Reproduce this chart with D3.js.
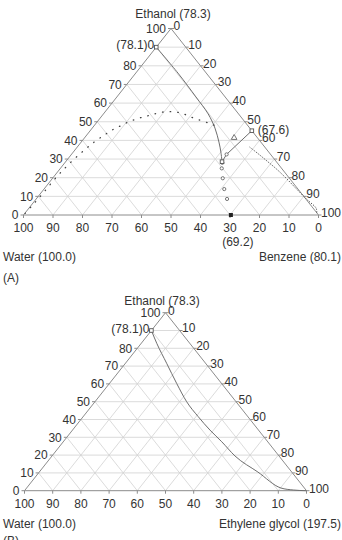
<!DOCTYPE html>
<html lang="en">
<head>
<meta charset="UTF-8"/>
<title>Ternary diagrams</title>
<script src="https://d3js.org/d3.v7.min.js"></script>
<style>
	body { margin: 0; background: #fff; }
	svg text { font-family: "Liberation Sans", Arial, sans-serif; font-size: 12px; fill: #333; }
</style>
</head>
<body>
<script>
// every composition is [ethanol %, third component %]; water is the rest
var ticks = [0, 10, 20, 30, 40, 50, 60, 70, 80, 90, 100];
var gridLevels = [10, 20, 30, 40, 50, 60, 70, 80, 90];

// (A) water - ethanol - benzene
var binodalLeftA = [[0.9, 0.1], [6.3, 0.5], [12.5, 0.8], [20.2, 1.0], [24.5, 1.4], [29.5, 2.1],
	[34.3, 3.1], [38.8, 4.3], [42.5, 5.8], [45.6, 7.3], [47.9, 9.1], [50.0, 10.7], [51.5, 12.6],
	[52.7, 14.5], [53.6, 16.4], [55.0, 18.8], [55.4, 22.0], [54.7, 26.0], [52.5, 30.5],
	[50.7, 34.8], [48.8, 39.2], [47.3, 42.3]];
var binodalRightA = [[36.3, 58.6], [33.1, 62.8], [28.6, 68.5], [24.1, 74.1], [18.8, 80.2],
	[13.4, 86.2], [8.0, 92.3], [3.6, 97.4], [0.8, 99.0]];
var boundaryA = [[90, 0], [76.1, 14.3], [63.3, 26.8], [54.2, 35.5], [46.6, 41.6], [39.1, 46.7],
	[33.8, 50.0], [28.6, 53.0]];
var boundaryA2 = [[28.6, 53.0], [32.5, 52.6], [45.2, 54.8]];
var tieCirclesA = [[32.5, 52.6], [28.0, 53.4], [25.0, 54.7], [19.7, 57.7], [13.9, 61.1], [8.6, 64.7]];
var triangleA = [[41.4, 50.7]];
var openSquaresA = [[90, 0], [45.2, 54.8], [28.6, 53.0]];
var filledSquaresA = [[0, 70.3]];

// (B) water - ethanol - ethylene glycol
var boundaryB = [[90, 0], [82.8, 5.5], [71.6, 14.6], [60.3, 23.8], [50, 32.5], [41.6, 40.8],
	[34.1, 48.7], [27.5, 56.2], [19.5, 64.9], [10.5, 77.5], [1.5, 90.2], [0.4, 95.1], [0, 100]];
var openSquaresB = [[90, 0]];

var svg = d3.select("body").append("svg")
	.attr("width", 342)
	.attr("height", 540);

function drawTernary(cfg) {
	var g = svg.append("g");
	var xScale = d3.scaleLinear().domain([0, 100]).range([cfg.left, cfg.right]);
	var yScale = d3.scaleLinear().domain([0, 100]).range([cfg.bottom, cfg.top]);
	function pt(e, b) { return [xScale(b + e / 2), yScale(e)]; }
	var line = d3.line().x(d => pt(d[0], d[1])[0]).y(d => pt(d[0], d[1])[1]);

	// grid
	var segs = [];
	gridLevels.forEach(function (k) {
		segs.push([pt(k, 0), pt(k, 100 - k)]);
		segs.push([pt(0, k), pt(100 - k, k)]);
		segs.push([pt(0, 100 - k), pt(100 - k, 0)]);
	});
	g.selectAll(".grid").data(segs).enter().append("line")
		.attr("x1", d => d[0][0]).attr("y1", d => d[0][1])
		.attr("x2", d => d[1][0]).attr("y2", d => d[1][1])
		.attr("stroke", "#d2d2d2").attr("stroke-width", 0.8);

	// frame
	g.append("path")
		.attr("d", line([[0, 0], [100, 0], [0, 100], [0, 0]]))
		.attr("fill", "none").attr("stroke", "#8c8c8c").attr("stroke-width", 1);

	// ticks and labels
	ticks.forEach(function (k) {
		var p = pt(k, 0);
		g.append("line").attr("x1", p[0]).attr("y1", p[1]).attr("x2", p[0] - 3).attr("y2", p[1])
			.attr("stroke", "#8c8c8c");
		if (k !== 90)
			g.append("text").attr("x", p[0] - 5).attr("y", p[1] + 4.3)
				.attr("text-anchor", "end").text(k);
		var q = pt(100 - k, k);
		g.append("line").attr("x1", q[0]).attr("y1", q[1]).attr("x2", q[0] + 3).attr("y2", q[1])
			.attr("stroke", "#8c8c8c");
		g.append("text").attr("x", q[0] + 2.5).attr("y", q[1] + 1.8)
			.attr("text-anchor", "start").text(k);
		var r = pt(0, 100 - k);
		g.append("line").attr("x1", r[0]).attr("y1", r[1]).attr("x2", r[0]).attr("y2", r[1] + 3)
			.attr("stroke", "#8c8c8c");
		g.append("text").attr("x", r[0]).attr("y", r[1] + 17.3)
			.attr("text-anchor", "middle").text(k);
	});
	var az = pt(90, 0);
	g.append("text").attr("x", az[0] - 2).attr("y", az[1] + 2.3)
		.attr("text-anchor", "end").text("(78.1)0");

	// curves
	(cfg.solid || []).forEach(function (s) {
		g.append("path").attr("d", line.curve(s.curve)(s.data))
			.attr("fill", "none").attr("stroke", "#6e6e6e").attr("stroke-width", 1);
	});
	(cfg.dotted || []).forEach(function (s) {
		g.append("path").attr("d", line.curve(d3.curveCatmullRom)(s.data))
			.attr("fill", "none").attr("stroke", "#444").attr("stroke-width", s.w)
			.attr("stroke-linecap", "round").attr("stroke-dasharray", s.dash);
	});

	// markers
	g.selectAll(".circ").data(cfg.circles || []).enter().append("circle")
		.attr("cx", d => pt(d[0], d[1])[0]).attr("cy", d => pt(d[0], d[1])[1])
		.attr("r", 1.6).attr("fill", "#fff").attr("stroke", "#666").attr("stroke-width", 0.9);
	g.selectAll(".tri").data(cfg.triangles || []).enter().append("path")
		.attr("d", d3.symbol(d3.symbolTriangle, 14))
		.attr("transform", d => "translate(" + pt(d[0], d[1]) + ")")
		.attr("fill", "#fff").attr("stroke", "#666").attr("stroke-width", 0.9);
	g.selectAll(".osq").data(cfg.openSquares || []).enter().append("rect")
		.attr("x", d => pt(d[0], d[1])[0] - 1.8).attr("y", d => pt(d[0], d[1])[1] - 1.8)
		.attr("width", 3.6).attr("height", 3.6)
		.attr("fill", "#fff").attr("stroke", "#555").attr("stroke-width", 0.9);
	g.selectAll(".fsq").data(cfg.filledSquares || []).enter().append("rect")
		.attr("x", d => pt(d[0], d[1])[0] - 2).attr("y", d => pt(d[0], d[1])[1] - 2)
		.attr("width", 4).attr("height", 4).attr("fill", "#222");

	// names
	g.append("text").attr("x", (cfg.left + cfg.right) / 2 + cfg.titleDx).attr("y", cfg.top - cfg.titleDy)
		.attr("text-anchor", "middle").text("Ethanol (78.3)");
	g.append("text").attr("x", 3).attr("y", cfg.bottom + cfg.nameDy).text("Water (100.0)");
	g.append("text").attr("x", 341).attr("y", cfg.bottom + cfg.nameDy)
		.attr("text-anchor", "end").text(cfg.third);
	g.append("text").attr("x", 3).attr("y", cfg.bottom + cfg.letterDy).text(cfg.letter);
	(cfg.notes || []).forEach(function (n) {
		var p = pt(n.at[0], n.at[1]);
		g.append("text").attr("x", p[0] + n.dx).attr("y", p[1] + n.dy)
			.attr("text-anchor", n.anchor).text(n.text);
	});
}

drawTernary({
	left: 23.5, right: 318.5, bottom: 215, top: 28.5, titleDx: 2, titleDy: 11,
	nameDy: 45.5, third: "Benzene (80.1)", letter: "(A)", letterDy: 66.5,
	solid: [{ data: boundaryA, curve: d3.curveCatmullRom }, { data: boundaryA2, curve: d3.curveLinear }],
	dotted: [{ data: binodalLeftA, dash: "0.6,7", w: 1.3 }, { data: binodalRightA, dash: "0.4,2.2", w: 1 }],
	circles: tieCirclesA, triangles: triangleA,
	openSquares: openSquaresA, filledSquares: filledSquaresA,
	notes: [{ at: [0, 70.3], dx: 7, dy: 31, anchor: "middle", text: "(69.2)" },
		{ at: [45.2, 54.8], dx: 6, dy: 3, anchor: "start", text: "(67.6)" }]
});

drawTernary({
	left: 24.5, right: 306.5, bottom: 490.7, top: 312.7, titleDx: -3.5, titleDy: 7.4,
	nameDy: 37, third: "Ethylene glycol (197.5)", letter: "(B)", letterDy: 54,
	solid: [{ data: boundaryB, curve: d3.curveMonotoneX }],
	openSquares: openSquaresB
});
</script>
</body>
</html>
